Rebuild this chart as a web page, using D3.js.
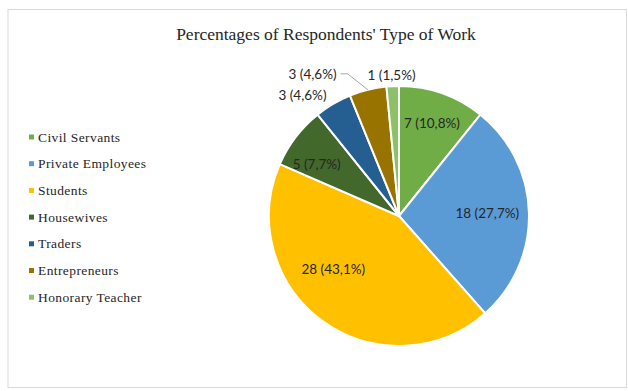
<!DOCTYPE html>
<html>
<head>
<meta charset="utf-8">
<script src="https://cdn.jsdelivr.net/npm/d3@7/dist/d3.min.js"></script>
<style>
  html, body { margin: 0; padding: 0; background: #ffffff; }
  svg { display: block; }
</style>
</head>
<body>
<svg id="chart" width="628" height="391"></svg>
<script>
// Respondents by type of work
const categories = [
  "Civil Servants",
  "Private Employees",
  "Students",
  "Housewives",
  "Traders",
  "Entrepreneurs",
  "Honorary Teacher"
];
const counts = [7, 18, 28, 5, 3, 3, 1];
const colors = ["#70AD47", "#5B9BD5", "#FFC000", "#43682B", "#255E91", "#997300", "#8CC168"];
const title = "Percentages of Respondents' Type of Work";

// Label placement around the pie: angle (deg, clockwise from 12 o'clock) and radius factor
const labelAngle  = [19.5, 88, 231, 302.4, 321.4, 328.7, 357];
const labelRadius = [0.76, 0.68, 0.65, 0.75, 1.19, 1.28, 1.09];
const leaderFor = [false, false, false, false, false, true, false];

const W = 628, H = 391;
const cx = 399, cy = 216, R = 130;

const svg = d3.select("#chart");

// chart frame
svg.append("rect")
  .attr("x", 8).attr("y", 9.5)
  .attr("width", 618.5).attr("height", 378)
  .attr("fill", "#ffffff")
  .attr("stroke", "#d9d9d9")
  .attr("stroke-width", 1);

// title
svg.append("text")
  .attr("x", 326).attr("y", 40)
  .attr("text-anchor", "middle")
  .attr("font-family", "Liberation Serif, serif")
  .attr("font-size", 17.5)
  .attr("fill", "#262626")
  .text(title);

const total = d3.sum(counts);
const data = categories.map((c, i) => ({ name: c, value: counts[i], color: colors[i], i }));

const pie = d3.pie().sort(null).value(d => d.value);
const arcs = pie(data);
const arc = d3.arc().innerRadius(0).outerRadius(R);

const g = svg.append("g").attr("transform", `translate(${cx},${cy})`);

g.selectAll("path.slice")
  .data(arcs)
  .join("path")
  .attr("class", "slice")
  .attr("d", arc)
  .attr("fill", d => d.data.color)
  .attr("stroke", "#ffffff")
  .attr("stroke-width", 2)
  .attr("stroke-linejoin", "round");

const fmtPct = v => (Math.round(v * 1000) / 10).toFixed(1).replace(".", ",");
const labelText = d => `${d.data.value} (${fmtPct(d.data.value / total)}%)`;

const polar = (deg, r) => {
  const a = deg * Math.PI / 180;
  return [r * Math.sin(a), -r * Math.cos(a)];
};

const labels = g.selectAll("text.lbl")
  .data(arcs)
  .join("text")
  .attr("class", "lbl")
  .attr("font-family", "Lato, 'Liberation Sans', sans-serif")
  .attr("font-size", 13.5)
  .attr("fill", "#262626")
  .attr("text-anchor", "middle")
  .attr("dominant-baseline", "central")
  .attr("x", (d, i) => polar(labelAngle[i], labelRadius[i] * R)[0])
  .attr("y", (d, i) => polar(labelAngle[i], labelRadius[i] * R)[1])
  .text(labelText);

// leader lines for labels that sit away from their slice
labels.each(function (d, i) {
  if (!leaderFor[i]) return;
  const bb = this.getBBox();
  const midDeg = (d.startAngle + d.endAngle) / 2 * 180 / Math.PI;
  const end = polar(midDeg, R);
  const sx = bb.x + bb.width + 4, sy = bb.y + bb.height / 2;
  g.append("polyline")
    .attr("points", `${sx},${sy} ${sx + 7},${sy} ${end[0]},${end[1]}`)
    .attr("fill", "none")
    .attr("stroke", "#a6a6a6")
    .attr("stroke-width", 1);
});

// legend
const legend = svg.append("g").attr("transform", "translate(29,137)");
const rowH = 26.7;
const items = legend.selectAll("g.item")
  .data(data)
  .join("g")
  .attr("class", "item")
  .attr("transform", (d, i) => `translate(0,${i * rowH})`);

items.append("rect")
  .attr("x", 0).attr("y", -2.5)
  .attr("width", 5).attr("height", 5)
  .attr("fill", d => d.color);

items.append("text")
  .attr("x", 9).attr("y", 0)
  .attr("dominant-baseline", "central")
  .attr("font-family", "Liberation Serif, serif")
  .attr("font-size", 13.5)
  .attr("letter-spacing", 0.4)
  .attr("fill", "#262626")
  .text(d => d.name);
</script>
</body>
</html>
